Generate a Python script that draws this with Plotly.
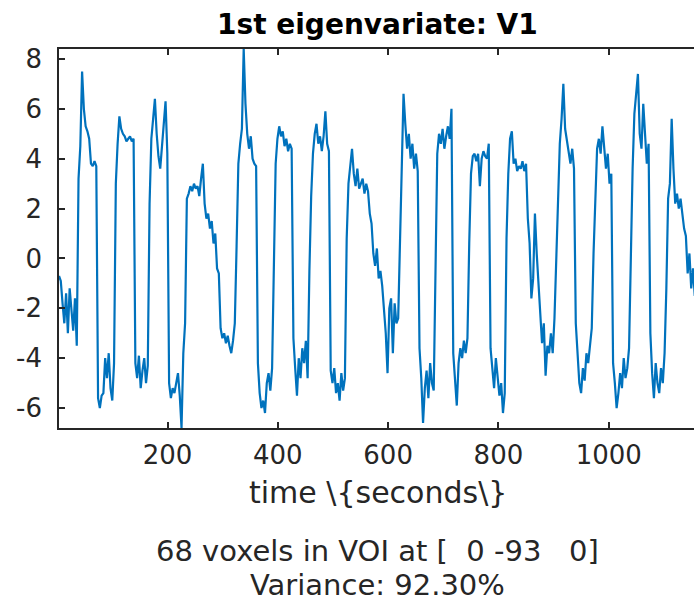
import plotly.graph_objects as go

# Scan repetition time (s); one value per scan
TR = 3.22

# 1st eigenvariate of the VOI, one value per scan
eigenvariate = [
    -0.7, -0.9, -1.8, -2.6, -1.4, -3.0, -1.2, -2.2, -2.9, -1.6, -3.5,
    3.2, 4.5, 7.5, 6.0, 5.3, 5.1, 4.8, 3.8, 3.7, 3.9, 3.7,
    -5.6, -6.0, -5.5, -5.4, -4.0, -4.8, -3.8, -5.2, -5.7, -4.2,
    3.0, 4.6, 5.7, 5.2, 5.0, 4.9, 4.7, 4.8, 4.9, 4.7, 4.8,
    -4.2, -4.8, -3.9, -5.2, -4.5, -4.0, -5.0, -4.3,
    2.2, 4.8, 5.6, 6.4, 5.0, 4.1, 3.6, 4.6, 5.2, 6.3, 4.2,
    -5.0, -5.6, -5.2, -5.4, -5.0, -4.6, -5.5, -6.8, -3.8, -2.6,
    2.4, 2.6, 2.9, 2.7, 3.0, 2.8, 2.9, 2.5, 3.2, 3.8, 2.2, 1.6,
    1.8, 1.2, 1.5, 0.6, 1.0, -0.4, -0.6,
    -2.8, -3.2, -3.0, -3.4, -3.1, -3.5, -3.8, -3.3, -2.6,
    0.5, 3.8, 4.6, 5.2, 8.4, 6.2, 5.0, 4.4, 4.9, 4.0, 3.8, 3.7,
    -4.2, -5.4, -6.0, -5.7, -6.2, -5.0, -4.6, -5.3, -4.4,
    -0.8,
    3.8, 4.8, 5.3, 4.9, 5.1, 4.5, 4.8, 4.3, 4.6, 4.4,
    -3.2, -4.4, -5.5, -4.0, -4.8, -3.6, -4.2, -3.3, -4.8,
    -0.5, 2.5, 4.2, 5.0, 5.4, 4.6, 4.9, 4.3, 4.9, 5.9, 4.6, 4.3,
    -4.5, -5.0, -4.4, -5.4, -5.0, -5.7, -4.6, -5.3, -4.8,
    0.8, 3.0, 3.6, 4.4, 3.4, 2.9, 3.6, 2.8, 3.0, 3.2, 2.6, 3.0, 2.7, 1.8,
    1.4, 0.2, -0.3, 0.4, -0.8, -0.5, -1.1,
    -2.2, -3.0, -4.6, -2.0, -1.6, -3.8, -1.8, -2.6, -2.4,
    1.0, 4.6, 6.6, 5.4, 4.4, 5.0, 4.0, 4.6, 3.6, 4.2, 3.5,
    -3.6, -4.8, -6.6, -5.2, -4.5, -5.6, -4.2, -5.0, -5.3,
    0.5, 4.2, 5.0, 4.6, 5.2, 4.4, 4.9, 5.3, 4.8, 6.0,
    -3.8, -5.0, -5.9, -4.2, -3.6, -4.0, -3.3, -3.8, -3.2,
    0.6, 3.4, 4.1, 4.2, 3.9, 4.2, 2.9, 4.0, 4.3, 4.1, 4.0, 4.6,
    -3.6, -4.5, -5.2, -4.0, -4.8, -5.5, -5.0, -6.2, -5.4,
    0.8, 3.4, 4.8, 5.1, 3.8, 4.0, 3.5, 3.7, 3.6, 3.9, 3.5, 3.8,
    1.6, 0.6, -1.6, -0.8, 1.8, 0.2, -1.0,
    -2.2, -3.4, -2.6, -4.7, -3.5, -3.8, -3.0, -3.8, -2.4,
    0.0, 2.6, 4.6, 5.6, 7.0, 5.2, 4.7, 4.2, 3.8, 4.4, 3.6,
    -2.6, -4.0, -5.0, -5.4, -4.4, -4.9, -3.8, -4.2, -3.5, -2.8,
    0.2, 2.8, 4.4, 4.8, 4.2, 5.3, 4.6, 3.6, 4.2, 3.0, 3.4,
    -4.2, -5.0, -6.0, -5.4, -4.6, -5.2, -4.0, -4.8, -4.4, -3.6,
    0.4, 3.6, 5.8, 6.6, 7.4, 5.0, 4.4, 6.2, 4.8, 3.8, 4.6,
    -3.0, -4.6, -5.6, -4.2, -5.0, -5.4, -4.4, -5.0, -3.8,
    -1.2, 2.4, 3.0, 5.6, 3.6, 2.2, 2.6, 2.0, 2.4, 1.8, 1.2,
    0.9, -0.6, 0.2, -1.2, -0.4, -1.5, -0.9,
]

time_s = [TR * (k + 1) for k in range(len(eigenvariate))]

x_tickvals = [200, 400, 600, 800, 1000]
x_ticktext = ["200", "400", "600", "800", "1000"]
y_tickvals = [-6, -4, -2, 0, 2, 4, 6, 8]
y_ticktext = ["-6", "-4", "-2", "0", "2", "4", "6", "8"]

title_text = "1st eigenvariate: V1"
xlabel_text = "time \\{seconds\\}"
voi_text = "68 voxels in VOI at [\u00a0\u00a00\u00a0-93\u00a0\u00a0\u00a00]"
var_text = "Variance: 92.30%"

AX = "#262626"
FONT = "DejaVu Sans"

fig = go.Figure(
    go.Scatter(
        x=time_s, y=eigenvariate, mode="lines",
        line=dict(color="#0072BD", width=2.2),
        hoverinfo="skip",
    )
)

fig.update_layout(
    width=694, height=605,
    margin=dict(l=59, r=0, t=49, b=177, pad=0),
    paper_bgcolor="white", plot_bgcolor="white",
    showlegend=False,
    font=dict(family=FONT, color=AX),
)

fig.update_xaxes(
    range=[TR, 1154.6],
    tickvals=x_tickvals, ticktext=x_ticktext,
    ticks="inside", ticklen=6, tickwidth=1.5, tickcolor=AX,
    showline=True, linecolor=AX, linewidth=1.5, mirror="ticks",
    showgrid=False, zeroline=False,
    tickfont=dict(family=FONT, size=26, color=AX),
    ticklabelstandoff=3,
)
fig.update_yaxes(
    range=[-6.8, 8.4],
    tickvals=y_tickvals, ticktext=y_ticktext,
    ticks="inside", ticklen=6, tickwidth=1.5, tickcolor=AX,
    showline=True, linecolor=AX, linewidth=1.5, mirror=False,
    showgrid=False, zeroline=False,
    tickfont=dict(family=FONT, size=26, color=AX),
    ticklabelstandoff=10,
)

plot_h = 605 - 49 - 177
def ypos(py):
    return (428 - py) / plot_h

cx = (378 - 59) / 635
annotations = [
    dict(text="<b>" + title_text + "</b>", x=cx, y=ypos(24), font=dict(size=28, family=FONT, color="black")),
    dict(text=xlabel_text, x=cx, y=ypos(492), font=dict(size=30, family=FONT, color=AX)),
    dict(text=voi_text, x=cx, y=ypos(551), font=dict(size=29, family=FONT, color=AX)),
    dict(text=var_text, x=cx, y=ypos(585), font=dict(size=29, family=FONT, color=AX)),
]
for a in annotations:
    a.update(xref="paper", yref="paper", xanchor="center", yanchor="middle", showarrow=False)
fig.update_layout(annotations=annotations)

fig.write_html("out.html")
